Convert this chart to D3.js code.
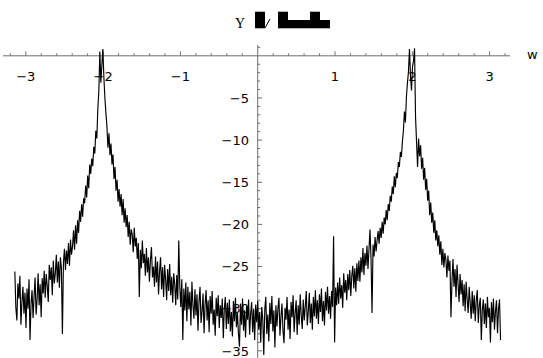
<!DOCTYPE html>
<html>
<head>
<meta charset="utf-8">
<script src="https://cdn.jsdelivr.net/npm/d3@7"></script>
<style>
  html, body { margin: 0; padding: 0; background: #fff; }
  svg { display: block; }
</style>
</head>
<body>
<svg id="chart" width="543" height="358"></svg>
<script>
// Power spectrum in dB, sampled evenly over w = -pi .. pi
const power = [
  -25.6, -29.9, -31.4, -27.0, -28.8, -26.1, -31.9, -29.2, -27.4, -30.6,
  -28.1, -32.3, -27.6, -30.0, -26.5, -33.7, -29.4, -27.8, -31.1, -28.6,
  -26.3, -30.7, -28.9, -25.8, -29.6, -27.1, -31.0, -26.4, -28.2, -25.5,
  -28.7, -25.9, -27.3, -29.2, -24.8, -26.6, -25.1, -28.4, -24.3, -27.0,
  -25.8, -23.6, -26.9, -24.4, -27.5, -23.9, -25.2, -33.0, -24.6, -22.9,
  -25.4, -23.1, -24.7, -22.2, -24.9, -21.8, -23.6, -22.6, -20.7, -23.0,
  -20.1, -22.3, -19.5, -21.0, -18.4, -19.7, -17.6, -19.1, -16.9, -17.5,
  -15.4, -16.8, -14.2, -15.7, -12.9, -14.0, -12.2, -13.1, -10.8, -11.6,
  -8.9, -9.8, -6.3, -4.2, 0.5, -3.2, -1.1, 0.8, -2.6, -5.0,
  -6.8, -8.4, -10.9, -9.2, -11.8, -10.4, -12.9, -11.7, -14.6, -13.2,
  -16.0, -14.7, -17.3, -15.8, -17.9, -16.4, -18.9, -17.0, -19.8, -18.1,
  -20.3, -18.9, -21.5, -19.7, -22.4, -20.6, -21.2, -23.3, -20.4, -22.6,
  -21.6, -24.1, -22.2, -28.6, -23.0, -25.2, -21.9, -24.6, -23.5, -26.1,
  -22.8, -25.7, -23.9, -26.8, -24.2, -22.7, -26.3, -25.0, -27.4, -23.8,
  -26.9, -24.4, -28.3, -25.6, -23.9, -27.7, -25.1, -28.6, -24.8, -26.5,
  -29.0, -25.3, -27.9, -24.7, -28.4, -26.2, -29.3, -25.8, -27.1, -29.6,
  -26.0, -28.9, -21.9, -27.3, -29.8, -26.5, -33.7, -27.6, -30.2, -26.9,
  -31.5, -27.4, -30.1, -28.0, -32.0, -26.8, -29.6, -31.2, -27.7, -30.8,
  -28.3, -32.6, -29.1, -27.4, -31.7, -30.3, -28.2, -32.9, -29.5, -27.8,
  -31.4, -29.0, -32.8, -28.5, -30.6, -27.9, -31.9, -30.1, -33.2, -28.7,
  -30.9, -28.4, -32.3, -29.6, -31.1, -28.8, -33.5, -30.0, -28.6, -32.4,
  -29.3, -31.8, -28.9, -32.7, -30.4, -33.3, -29.1, -31.5, -28.7, -32.2,
  -30.5, -33.0, -34.5, -29.4, -31.9, -28.8, -32.6, -30.2, -33.4, -29.7,
  -31.3, -28.9, -33.1, -30.6, -29.2, -32.8, -30.0, -33.7, -29.5, -31.6,
  -29.1, -32.5, -30.4, -34.0, -29.8, -31.2, -35.5, -30.1, -28.6, -33.0,
  -30.7, -33.9, -29.3, -31.8, -28.5, -32.7, -30.2, -34.6, -29.6, -32.1,
  -30.0, -28.7, -33.2, -30.9, -29.4, -32.6, -34.1, -29.9, -31.3, -28.6,
  -32.5, -30.1, -33.6, -29.2, -31.0, -28.4, -32.8, -30.5, -29.0, -33.1,
  -29.6, -31.9, -28.3, -30.8, -32.4, -28.9, -31.4, -29.7, -27.9, -32.0,
  -30.3, -28.1, -31.7, -29.4, -32.5, -28.6, -30.9, -27.8, -31.2, -29.0,
  -31.8, -28.3, -30.4, -27.6, -31.5, -29.1, -32.0, -28.0, -30.2, -27.4,
  -30.6, -28.5, -31.2, -27.9, -29.8, -21.4, -34.0, -27.5, -29.6, -26.9,
  -29.4, -26.3, -28.8, -27.2, -29.9, -25.8, -28.1, -26.6, -29.0, -25.9,
  -27.8, -25.4, -28.5, -26.1, -24.9, -27.6, -25.2, -28.0, -24.6, -26.7,
  -24.3, -26.8, -23.9, -25.7, -22.8, -26.0, -23.4, -24.9, -22.5, -25.3,
  -22.9, -20.6, -24.1, -30.5, -22.4, -23.8, -21.5, -23.2, -21.9, -20.8,
  -22.3, -20.4, -21.6, -19.7, -21.1, -19.2, -20.0, -18.3, -19.5, -17.6,
  -18.4, -16.6, -17.3, -15.5, -16.4, -14.3, -15.6, -13.9, -14.5, -12.6,
  -13.2, -11.4, -12.0, -10.2, -8.9, -6.6, -7.9, -4.8, -3.2, -1.9,
  0.8, -2.4, -4.1, -1.3, -0.6, 0.9, -7.3, -10.2, -13.2, -9.8,
  -11.9, -10.6, -13.4, -12.1, -14.7, -13.3, -15.9, -14.6, -17.2, -16.0,
  -18.9, -17.4, -19.8, -18.6, -21.0, -19.5, -21.9, -20.7, -22.6, -21.3,
  -23.6, -22.0, -24.8, -22.9, -25.1, -23.4, -24.2, -26.3, -23.7, -25.5,
  -24.3, -31.0, -26.7, -24.1, -27.4, -25.3, -28.6, -24.8, -27.0, -29.2,
  -25.9, -28.3, -26.6, -29.7, -27.1, -30.3, -26.8, -28.9, -30.5, -27.4,
  -29.3, -31.2, -27.9, -30.6, -28.4, -31.5, -29.0, -27.8, -31.7, -29.6,
  -28.7, -33.7, -30.1, -28.9, -31.8, -29.4, -32.3, -28.6, -31.0, -29.9,
  -34.0, -29.2, -31.6, -28.8, -32.5, -30.3, -29.0, -32.9, -30.0, -28.9,
  -33.7
];
const wStart = -Math.PI;
const wEnd = Math.PI;

const xTicks = [-3, -2, -1, 1, 2, 3];
const yTicks = [-5, -10, -15, -20, -25, -30, -35];
const xLabel = "w";
const titleText = "Y";

const svg = d3.select("#chart");
const axisColor = "#6e6e6e";
const tickFont = "'DejaVu Sans', sans-serif";

// Scales: axes cross at the origin
const x = d3.scaleLinear().domain([-3, 3]).range([25.8, 489.6]);
const y = d3.scaleLinear().domain([0, -35]).range([55.8, 350.85]);

const step = (wEnd - wStart) / (power.length - 1);
const series = power.map((v, i) => ({ w: wStart + i * step, v }));

// ---- axes ----
const axes = svg.append("g");

// horizontal axis along v = 0
axes.append("line")
  .attr("x1", 3).attr("x2", 510)
  .attr("y1", y(0)).attr("y2", y(0))
  .attr("stroke", axisColor).attr("stroke-width", 1);

// vertical axis along w = 0
axes.append("line")
  .attr("x1", x(0)).attr("x2", x(0))
  .attr("y1", 45).attr("y2", 358)
  .attr("stroke", axisColor).attr("stroke-width", 1);

// x minor / major ticks (pointing up)
const xMinor = d3.range(-16, 17).map(k => k * 0.2).filter(t => Math.abs(t) > 1e-9);
axes.selectAll(".xminor").data(xMinor).enter().append("line")
  .attr("x1", d => x(d)).attr("x2", d => x(d))
  .attr("y1", y(0)).attr("y2", d => y(0) - (Math.abs(d - Math.round(d)) < 1e-9 ? 4.5 : 2.5))
  .attr("stroke", axisColor).attr("stroke-width", 1);

axes.selectAll(".xlab").data(xTicks).enter().append("text")
  .attr("x", d => x(d)).attr("y", 80.5)
  .attr("text-anchor", "middle")
  .attr("font-family", tickFont).attr("font-size", 13)
  .attr("fill", "#000")
  .text(d => d < 0 ? "\u2212" + Math.abs(d) : String(d));

axes.append("text")
  .attr("x", 527).attr("y", 58.5)
  .attr("font-family", tickFont).attr("font-size", 13)
  .attr("fill", "#000")
  .text(xLabel);

// y minor / major ticks (pointing right)
const yMinor = d3.range(-36, 2).filter(t => t !== 0);
axes.selectAll(".ytick").data(yMinor).enter().append("line")
  .attr("x1", x(0)).attr("x2", d => x(0) + (d % 5 === 0 ? 4.5 : 2.5))
  .attr("y1", d => y(d)).attr("y2", d => y(d))
  .attr("stroke", axisColor).attr("stroke-width", 1);

axes.selectAll(".ylab").data(yTicks).enter().append("text")
  .attr("x", 249).attr("y", d => y(d) + 4.7)
  .attr("text-anchor", "end")
  .attr("font-family", tickFont).attr("font-size", 13)
  .attr("fill", "#000")
  .text(d => "\u2212" + Math.abs(d));

// ---- title ----
const title = svg.append("g");
title.append("text")
  .attr("x", 240).attr("y", 28.3)
  .attr("text-anchor", "middle")
  .attr("font-family", "'Liberation Serif', 'DejaVu Serif', serif").attr("font-size", 14)
  .attr("fill", "#000")
  .text(titleText);
// missing-glyph boxes that follow the title letter
const boxes = [
  [255, 11.7, 10, 16.6],
  [278, 11.7, 10, 16.6],
  [288, 20, 22, 8.3],
  [310, 11.7, 10, 16.6],
  [320, 20, 10, 8.3]
];
title.selectAll("rect").data(boxes).enter().append("rect")
  .attr("x", d => d[0]).attr("y", d => d[1])
  .attr("width", d => d[2]).attr("height", d => d[3])
  .attr("fill", "#000");
title.append("line")
  .attr("x1", 265).attr("y1", 28).attr("x2", 270).attr("y2", 19)
  .attr("stroke", "#000").attr("stroke-width", 1);

// ---- spectrum curve ----
const line = d3.line().x(d => x(d.w)).y(d => y(d.v));
svg.append("path")
  .datum(series)
  .attr("d", line)
  .attr("fill", "none")
  .attr("stroke", "#000")
  .attr("stroke-width", 1.15)
  .attr("stroke-linejoin", "miter");
</script>
</body>
</html>
